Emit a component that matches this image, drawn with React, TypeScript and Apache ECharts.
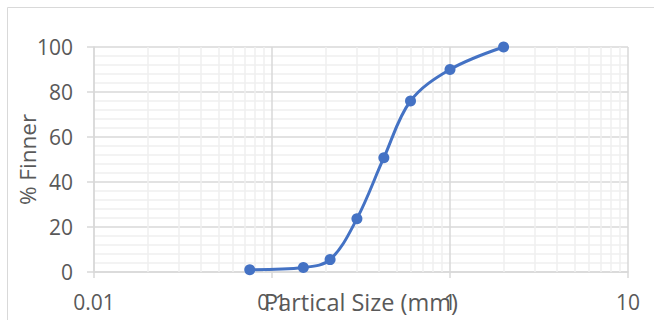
import React, { useEffect, useRef } from "react";
import * as echarts from "echarts";

const sizes = [0.075, 0.15, 0.212, 0.3, 0.425, 0.6, 1.0, 2.0];
const percentFiner = [1, 2, 5.5, 23.7, 50.8, 76, 90, 100];
const xTickDecades = [0.01, 0.1, 1, 10];
const yTicks = [0, 20, 40, 60, 80, 100];

const FONT = "Open Sans";
const TEXT = "#595959";

export default function App() {
  const ref = useRef<HTMLDivElement>(null);
  useEffect(() => {
    if (!ref.current) return;
    const chart = echarts.init(ref.current, undefined, { renderer: "svg" });
    const minorX: { xAxis: number }[] = [];
    for (let i = 0; i < xTickDecades.length - 1; i++) {
      for (let k = 2; k <= 9; k++) {
        minorX.push({ xAxis: Number((xTickDecades[i] * k).toPrecision(6)) });
      }
    }
    chart.setOption({
      animation: false,
      graphic: [
        {
          type: "rect",
          shape: { x: 7.5, y: 7.5, width: 700, height: 400 },
          style: { fill: "none", stroke: "#d9d9d9", lineWidth: 1 },
          silent: true,
        },
      ],
      grid: { left: 94, right: 26, top: 47, bottom: 48, outerBoundsMode: "none", containLabel: false },
      xAxis: {
        type: "log",
        logBase: 10,
        min: xTickDecades[0],
        max: xTickDecades[xTickDecades.length - 1],
        name: "Partical Size (mm)",
        nameLocation: "middle",
        nameGap: 18,
        nameMoveOverlap: false,
        nameTextStyle: { fontFamily: FONT, fontSize: 23.5, color: TEXT },
        axisLine: { show: true, lineStyle: { color: "#d9d9d9", width: 1.5 } },
        axisTick: { show: true, length: 6, lineStyle: { color: "#d9d9d9", width: 1.5 } },
        axisLabel: {
          margin: 19,
          fontFamily: FONT,
          fontSize: 21,
          color: TEXT,
          hideOverlap: false,
          formatter: (v: number) => String(Number(v.toPrecision(6))),
        },
        splitLine: { show: true, lineStyle: { color: "#d9d9d9", width: 1.5 } },
      },
      yAxis: {
        type: "value",
        min: 0,
        max: 100,
        interval: 20,
        name: "% Finner",
        nameLocation: "middle",
        nameGap: 55,
        nameMoveOverlap: false,
        nameTextStyle: { fontFamily: FONT, fontSize: 22.5, color: TEXT },
        axisLine: { show: true, lineStyle: { color: "#d9d9d9", width: 1.5 } },
        axisTick: { show: true, length: 7, lineStyle: { color: "#d9d9d9", width: 1.5 } },
        axisLabel: {
          margin: 21,
          fontFamily: FONT,
          fontSize: 21,
          color: TEXT,
          formatter: (v: number) => (yTicks.includes(v) ? String(v) : ""),
        },
        splitLine: { show: true, lineStyle: { color: "#d9d9d9", width: 1.5 } },
        minorTick: { show: false, splitNumber: 5 },
        minorSplitLine: { show: true, lineStyle: { color: "#efefef", width: 1.5 } },
      },
      series: [
        {
          type: "line",
          data: [],
          z: 1,
          silent: true,
          markLine: {
            z: 1,
            silent: true,
            symbol: ["none", "none"],
            label: { show: false },
            lineStyle: { color: "#efefef", width: 1.5, type: "solid" },
            data: minorX,
          },
        },
        {
          type: "line",
          z: 3,
          data: sizes.map((s, i) => [s, percentFiner[i]]),
          smooth: 0.35,
          symbol: "circle",
          symbolSize: 11,
          itemStyle: { color: "#4472c4" },
          lineStyle: { color: "#4472c4", width: 3 },
        },
      ],
    });
    return () => chart.dispose();
  }, []);
  return (
    <div
      ref={ref}
      style={{ position: "fixed", left: 0, top: 0, width: 654, height: 320, background: "#fff" }}
    />
  );
}
